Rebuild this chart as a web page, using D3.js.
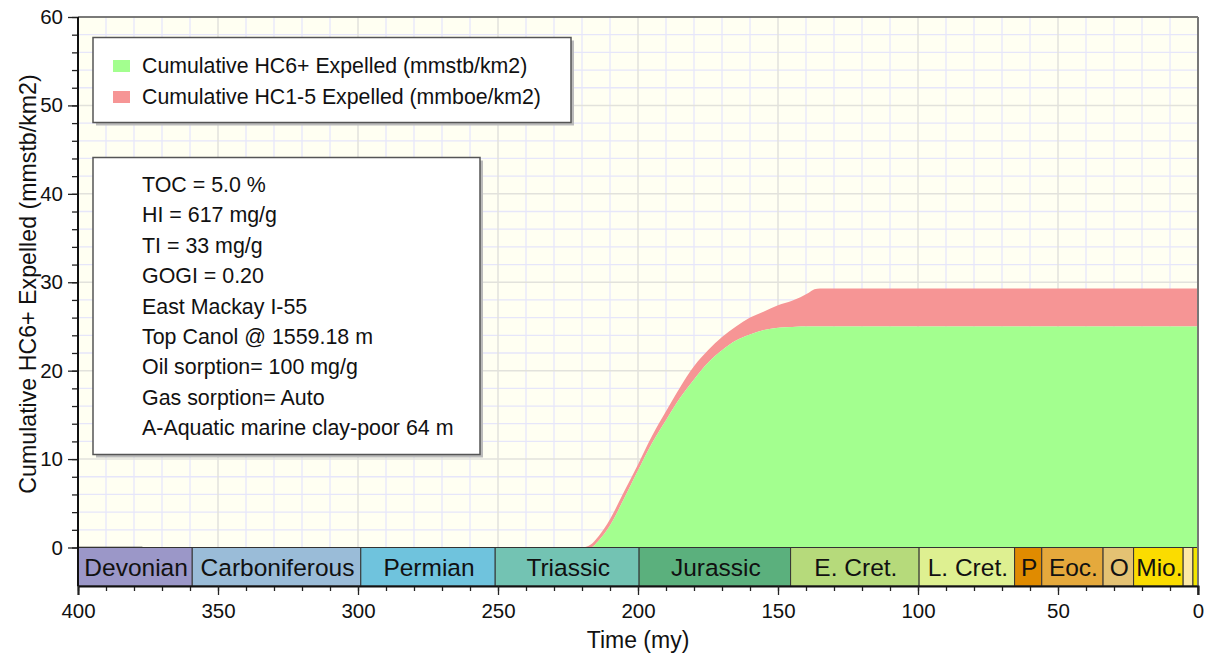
<!DOCTYPE html>
<html><head><meta charset="utf-8">
<script src="https://cdn.jsdelivr.net/npm/d3@7"></script>
<style>
html,body{margin:0;padding:0;background:#fff;}
svg{display:block;font-family:"Liberation Sans",Arial,sans-serif;}
</style></head>
<body>
<svg id="c" width="1207" height="656"></svg>
<script>
// ---- data ----
const times   = [400, 220, 217, 214, 210, 205, 200, 195, 190, 185, 180, 175, 170, 165, 160, 155, 150, 145, 142, 139, 137, 135, 0];
const hc6plus = [0, 0, 0, 0.8, 2.5, 5.5, 8.7, 11.8, 14.4, 16.9, 19.0, 20.9, 22.3, 23.4, 24.1, 24.6, 24.85, 24.95, 25.0, 25.0, 25.0, 25.0, 25.0];
const hc1to5  = [0, 0, 0.3, 0.5, 0.7, 0.8, 0.7, 0.8, 1.0, 1.2, 1.5, 1.4, 1.5, 1.6, 1.9, 2.1, 2.55, 2.95, 3.3, 3.8, 4.2, 4.3, 4.3];
const periodNames  = ["Devonian","Carboniferous","Permian","Triassic","Jurassic","E. Cret.","L. Cret.","P","Eoc.","O","Mio.","",""];
const periodStart  = [416, 359.2, 299, 251, 199.6, 145.5, 99.6, 65.5, 55.8, 33.9, 23.0, 5.3, 1.8];
const periodEnd    = [359.2, 299, 251, 199.6, 145.5, 99.6, 65.5, 55.8, 33.9, 23.0, 5.3, 1.8, 0];
const periodColors = ["#9b97c8","#9abcd8","#6fc3dd","#73c3b3","#5bb07d","#b6da7b","#def091","#e08b00","#e5a93c","#e4c273","#fbdc00","#fde9a6","#f3e600"];
const xTicks = [400, 350, 300, 250, 200, 150, 100, 50, 0];
const yTicks = [0, 10, 20, 30, 40, 50, 60];
const legendLabels = ["Cumulative HC6+ Expelled (mmstb/km2)", "Cumulative HC1-5 Expelled (mmboe/km2)"];
const seriesColors = ["#a3ff8f", "#f69595"];
const infoLines = ["TOC = 5.0 %","HI = 617 mg/g","TI = 33 mg/g","GOGI = 0.20","East Mackay I-55","Top Canol @ 1559.18 m","Oil sorption= 100 mg/g","Gas sorption= Auto","A-Aquatic marine clay-poor 64 m"];
const xTitle = "Time (my)";
const yTitle = "Cumulative HC6+ Expelled (mmstb/km2)";

// ---- layout ----
const L = 78, R = 1198, T = 17, Y0 = 547.5, BAR_B = 586;
const svg = d3.select("#c");
const x = d3.scaleLinear().domain([400, 0]).range([L, R]);
const y = d3.scaleLinear().domain([0, 60]).range([Y0, T]);
const FF = "Liberation Sans, Arial, sans-serif";

// background
svg.append("rect").attr("x", L).attr("y", T).attr("width", R - L).attr("height", Y0 - T).attr("fill", "#fffff2");

// grid
const g = svg.append("g");
d3.range(0, 61, 2).filter(v => v % 10 !== 0).forEach(v => {
  g.append("line").attr("x1", L).attr("x2", R).attr("y1", y(v)).attr("y2", y(v)).attr("stroke", "#e6e6fa").attr("stroke-width", 1.3);
});
d3.range(0, 401, 10).filter(v => v % 50 !== 0).forEach(v => {
  g.append("line").attr("x1", x(v)).attr("x2", x(v)).attr("y1", T).attr("y2", Y0).attr("stroke", "#e6e6fa").attr("stroke-width", 1.3);
});
d3.range(10, 61, 10).forEach(v => {
  g.append("line").attr("x1", L).attr("x2", R).attr("y1", y(v)).attr("y2", y(v)).attr("stroke", "#e2e2dc").attr("stroke-width", 1.5);
});
d3.range(50, 400, 50).forEach(v => {
  g.append("line").attr("x1", x(v)).attr("x2", x(v)).attr("y1", T).attr("y2", Y0).attr("stroke", "#e2e2dc").attr("stroke-width", 1.5);
});

// stacked areas
const rows = times.map((t, i) => ({t, a: hc6plus[i], b: hc1to5[i]}));
const areaTop = d3.area().x(d => x(d.t)).y0(d => y(d.a)).y1(d => y(d.a + d.b)).curve(d3.curveMonotoneX);
const areaBot = d3.area().x(d => x(d.t)).y0(y(0)).y1(d => y(d.a)).curve(d3.curveMonotoneX);
svg.append("path").datum(rows).attr("d", areaTop).attr("fill", seriesColors[1]);
svg.append("path").datum(rows).attr("d", areaBot).attr("fill", seriesColors[0]);

// short zero line
svg.append("line").attr("x1", x(400)).attr("x2", x(377)).attr("y1", Y0).attr("y2", Y0).attr("stroke", "#111").attr("stroke-width", 1.5);

// period bar
const pg = svg.append("g");
periodNames.forEach((n, i) => {
  const s = Math.min(periodStart[i], 400), e = periodEnd[i];
  pg.append("rect").attr("x", x(s)).attr("y", Y0).attr("width", x(e) - x(s)).attr("height", BAR_B - Y0)
    .attr("fill", periodColors[i]).attr("stroke", "#333").attr("stroke-width", 1);
  if (n) pg.append("text").attr("x", (x(s) + x(e)) / 2 + 1).attr("y", (Y0 + BAR_B) / 2 + 1)
    .attr("text-anchor", "middle").attr("dominant-baseline", "central")
    .attr("font-size", 24.5).attr("fill", "#111").text(n);
});

// frame
svg.append("line").attr("x1", L).attr("x2", R).attr("y1", T).attr("y2", T).attr("stroke", "#555").attr("stroke-width", 1.5);
svg.append("line").attr("x1", R).attr("x2", R).attr("y1", T).attr("y2", 595).attr("stroke", "#777").attr("stroke-width", 2);

// x axis
const xAxisG = svg.append("g").attr("transform", `translate(0,${BAR_B})`);
xAxisG.call(d3.axisBottom(x).tickValues(d3.range(0, 401, 10)).tickSize(5).tickFormat(""));
xAxisG.call(g2 => g2.select(".domain").remove());
const xMaj = svg.append("g").attr("transform", `translate(0,${BAR_B})`)
  .call(d3.axisBottom(x).tickValues(xTicks).tickSize(9).tickPadding(8).tickFormat(d3.format("d")));
xMaj.select(".domain").attr("stroke", "#111").attr("stroke-width", 2);
xMaj.selectAll("text").attr("font-size", 20.5).attr("fill", "#111").attr("font-family", FF);

// y axis
const yMin = svg.append("g").attr("transform", `translate(${L},0)`)
  .call(d3.axisLeft(y).tickValues(d3.range(0, 61, 2)).tickSize(6).tickFormat(""));
yMin.select(".domain").remove();
const yMaj = svg.append("g").attr("transform", `translate(${L},0)`)
  .call(d3.axisLeft(y).tickValues(yTicks).tickSize(10).tickPadding(5).tickFormat(d3.format("d")));
yMaj.select(".domain").remove();
yMaj.selectAll("text").attr("font-size", 20.5).attr("fill", "#111").attr("font-family", FF);
svg.selectAll(".tick line").attr("stroke", "#222").attr("stroke-width", 1.3);
svg.append("line").attr("x1", L).attr("x2", L).attr("y1", T).attr("y2", BAR_B).attr("stroke", "#111").attr("stroke-width", 2);

// titles
svg.append("text").attr("x", (L + R) / 2).attr("y", 640).attr("text-anchor", "middle").attr("dominant-baseline", "central")
  .attr("font-size", 23).attr("fill", "#111").text(xTitle);
svg.append("text").attr("transform", "translate(28,284) rotate(-90)").attr("text-anchor", "middle").attr("dominant-baseline", "central")
  .attr("font-size", 23.2).attr("fill", "#111").text(yTitle);

// boxes with shadow
function box(x0, y0, w, h) {
  svg.append("rect").attr("x", x0 + 3).attr("y", y0 + 3).attr("width", w).attr("height", h).attr("fill", "#bbb");
  svg.append("rect").attr("x", x0).attr("y", y0).attr("width", w).attr("height", h).attr("fill", "#fff").attr("stroke", "#555").attr("stroke-width", 1.5);
}
box(93, 37.5, 478, 85);
legendLabels.forEach((lab, i) => {
  const cy = 66 + i * 31;
  svg.append("rect").attr("x", 113).attr("y", cy - 6).attr("width", 17).attr("height", 12).attr("fill", seriesColors[i]);
  svg.append("text").attr("x", 142).attr("y", cy).attr("dominant-baseline", "central").attr("font-size", 21.3).attr("fill", "#111").text(lab);
});
box(93, 157.5, 387, 297);
infoLines.forEach((t, i) => {
  svg.append("text").attr("x", 142).attr("y", 185 + i * 30.4).attr("dominant-baseline", "central").attr("font-size", 21.4).attr("fill", "#111").text(t);
});
</script>
</body></html>
